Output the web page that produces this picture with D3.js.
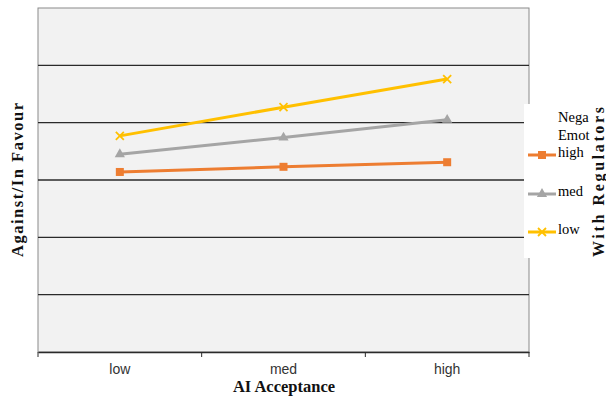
<!DOCTYPE html>
<html><head><meta charset="utf-8">
<script src="https://cdn.jsdelivr.net/npm/d3@7"></script>
<style>body{margin:0;background:#fff}</style>
</head><body>
<svg id="c" width="606" height="400"></svg>
<script>
const categories = ["low", "med", "high"];
const seriesNames = ["high", "med", "low"];
const highValues = [3.14, 3.23, 3.31];
const medValues = [3.45, 3.74, 4.05];
const lowValues = [3.77, 4.27, 4.76];
const yTicks = [0, 1, 2, 3, 4, 5, 6];
const legendTitle = ["Nega", "Emot"];
const colors = ["#ED7D31", "#A5A5A5", "#FFC000"];
const markers = ["square", "triangle", "cross"];
const allSeries = [highValues, medValues, lowValues];

const svg = d3.select("#c");
const L = 38, R = 529, T = 8, B = 352;
const x = d3.scaleBand().domain(categories).range([L, R]);
const y = d3.scaleLinear().domain([0, 6]).range([B, T]);

svg.append("rect").attr("x", L).attr("y", T).attr("width", R - L).attr("height", B - T)
  .attr("fill", "#f2f2f2").attr("stroke", "#8a8a8a").attr("stroke-width", 1);

svg.append("g").selectAll("line").data(yTicks.slice(1, -1)).join("line")
  .attr("x1", L).attr("x2", R).attr("y1", d => y(d)).attr("y2", d => y(d))
  .attr("stroke", "#2a2a2a").attr("stroke-width", 1.4);

const xAxis = svg.append("g").attr("transform", `translate(0,${B})`)
  .call(d3.axisBottom(x).tickSize(0).tickPadding(12));
xAxis.select(".domain").attr("stroke", "#2a2a2a").attr("stroke-width", 1.4);
xAxis.selectAll("text").attr("font-family", "Liberation Sans, Arial, sans-serif")
  .attr("font-size", 14).attr("fill", "#333");
const bounds = [L].concat(categories.map(c => x(c) + x.bandwidth()));
svg.append("g").selectAll("line").data(bounds).join("line")
  .attr("x1", d => d).attr("x2", d => d).attr("y1", B).attr("y2", B + 5)
  .attr("stroke", "#2a2a2a").attr("stroke-width", 1);

function marker(g, type, color) {
  if (type === "square") {
    g.append("rect").attr("x", -4).attr("y", -4).attr("width", 8).attr("height", 8).attr("fill", color);
  } else if (type === "triangle") {
    g.append("path").attr("d", d3.symbol(d3.symbolTriangle, 45)()).attr("fill", color);
  } else {
    g.append("path").attr("d", "M-4,-4L4,4M-4,4L4,-4").attr("stroke", color).attr("stroke-width", 1.8);
  }
}

const line = d3.line().x((d, i) => x(categories[i]) + x.bandwidth() / 2).y(d => y(d));
allSeries.forEach((vals, si) => {
  svg.append("path").datum(vals).attr("d", line).attr("fill", "none")
    .attr("stroke", colors[si]).attr("stroke-width", 3);
  vals.forEach((v, i) => {
    const g = svg.append("g").attr("transform", `translate(${x(categories[i]) + x.bandwidth() / 2},${y(v)})`);
    marker(g, markers[si], colors[si]);
  });
});

// legend
svg.append("rect").attr("x", 524).attr("y", 104).attr("width", 66).attr("height", 154).attr("fill", "#fff");
const lg = svg.append("g").attr("font-family", "Liberation Serif, Times New Roman, serif").attr("font-size", 14.5).attr("fill", "#000");
legendTitle.forEach((t, i) => lg.append("text").attr("x", 558).attr("y", 122 + i * 18).text(t));
const legY = [155, 194, 232];
seriesNames.forEach((n, i) => {
  svg.append("line").attr("x1", 528).attr("x2", 556).attr("y1", legY[i]).attr("y2", legY[i])
    .attr("stroke", colors[i]).attr("stroke-width", 3);
  const g = svg.append("g").attr("transform", `translate(542,${legY[i]})`);
  marker(g, markers[i], colors[i]);
  lg.append("text").attr("x", 558).attr("y", legY[i] + 2).text(n);
});

// titles
svg.append("text").attr("x", 284).attr("y", 392).attr("text-anchor", "middle")
  .attr("font-family", "Liberation Serif, Times New Roman, serif").attr("font-weight", "bold")
  .attr("font-size", 16.5).attr("fill", "#111").text("AI Acceptance");
svg.append("text").attr("transform", "translate(23,180) rotate(-90)").attr("text-anchor", "middle")
  .attr("font-family", "Liberation Serif, Times New Roman, serif").attr("font-weight", "bold")
  .attr("font-size", 16.5).attr("fill", "#111").attr("textLength", 154).attr("lengthAdjust", "spacing")
  .text("Against/In Favour");
svg.append("text").attr("transform", "translate(604,182) rotate(-90)").attr("text-anchor", "middle")
  .attr("font-family", "Liberation Serif, Times New Roman, serif").attr("font-weight", "bold")
  .attr("font-size", 16).attr("fill", "#111").attr("textLength", 150).attr("lengthAdjust", "spacing")
  .text("With Regulators");
</script>
</body></html>
